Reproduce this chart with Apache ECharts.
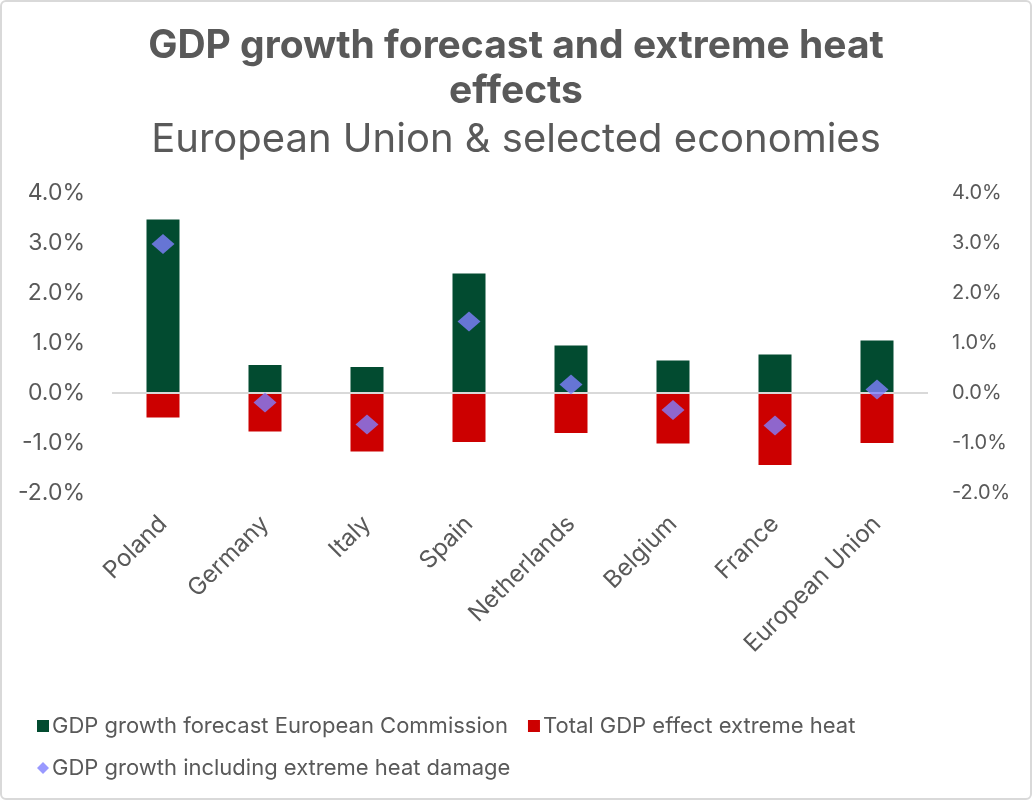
<!DOCTYPE html>
<html>
<head>
<meta charset="utf-8">
<script src="https://cdn.jsdelivr.net/npm/echarts@6/dist/echarts.min.js"></script>
<style>
  html, body { margin: 0; padding: 0; background: #fff; }
  #main { width: 1032px; height: 800px; box-sizing: border-box; border: 2px solid #d9d9d9; border-radius: 6px; }
</style>
</head>
<body>
<div id="main"></div>
<script>
(function() {
  const categories = ['Poland', 'Germany', 'Italy', 'Spain', 'Netherlands', 'Belgium', 'France', 'European Union'];
  const forecastEC = [3.47, 0.56, 0.52, 2.39, 0.95, 0.65, 0.77, 1.05];
  const heatEffect = [-0.49, -0.77, -1.17, -0.98, -0.80, -1.01, -1.44, -1.00];
  const withHeat = [2.98, -0.19, -0.63, 1.43, 0.17, -0.34, -0.65, 0.07];
  const seriesNames = ['GDP growth forecast European Commission', 'Total GDP effect extreme heat', 'GDP growth including extreme heat damage'];

  const font = 'Inter';
  const grey = '#595959';

  const myChart = echarts.init(document.getElementById('main'));

  function pct(v) {
    return v.toFixed(1) + '%';
  }

  const option = {
    title: {
      text: 'GDP growth forecast and extreme heat\neffects',
      subtext: 'European Union & selected economies',
      left: 'center',
      top: 17,
      itemGap: 3,
      textStyle: { fontFamily: font, fontSize: 39, fontWeight: 'bold', color: grey, lineHeight: 45 },
      subtextStyle: { fontFamily: font, fontSize: 40, color: grey, lineHeight: 45 }
    },
    legend: {
      left: 30,
      top: 708,
      width: 870,
      itemGap: 20,
      itemWidth: 12,
      itemHeight: 12,
      textStyle: { fontFamily: font, fontSize: 22, color: grey, padding: [0, 0, 0, -2], lineHeight: 22 },
      data: [
        { name: seriesNames[0], icon: 'rect' },
        { name: seriesNames[1], icon: 'rect' },
        { name: seriesNames[2], icon: 'diamond' }
      ]
    },
    grid: { left: 110, right: 102, top: 191, bottom: 305 },
    xAxis: {
      type: 'category',
      data: categories,
      axisLine: { show: false, onZero: false },
      axisTick: { show: false },
      axisLabel: { rotate: 45, interval: 0, margin: 27, fontFamily: font, fontSize: 24, color: grey }
    },
    yAxis: [{
      type: 'value',
      min: -2,
      max: 4,
      interval: 1,
      splitLine: { show: false },
      axisLine: { show: false },
      axisTick: { show: false },
      axisLabel: { margin: 27, fontFamily: font, fontSize: 23, color: grey, formatter: pct }
    }, {
      type: 'value',
      min: -2,
      max: 4,
      interval: 1,
      splitLine: { show: false },
      axisLine: { show: false },
      axisTick: { show: false },
      axisLabel: { margin: 24, fontFamily: font, fontSize: 20, color: grey, formatter: pct }
    }],
    series: [{
      name: seriesNames[0],
      type: 'bar',
      stack: 'gdp',
      barWidth: 33,
      itemStyle: { color: '#024b30' },
      data: forecastEC,
      markLine: {
        silent: true,
        symbol: 'none',
        label: { show: false },
        lineStyle: { color: '#d9d9d9', width: 2, type: 'solid' },
        data: [{ yAxis: 0 }]
      }
    }, {
      name: seriesNames[1],
      type: 'bar',
      stack: 'gdp',
      barWidth: 33,
      itemStyle: { color: '#cc0000' },
      data: heatEffect
    }, {
      name: seriesNames[2],
      type: 'scatter',
      symbol: 'diamond',
      symbolSize: [23, 20],
      itemStyle: { color: '#7f7fff' },
      data: withHeat,
      z: 5
    }]
  };

  myChart.setOption(option);
})();
</script>
</body>
</html>
